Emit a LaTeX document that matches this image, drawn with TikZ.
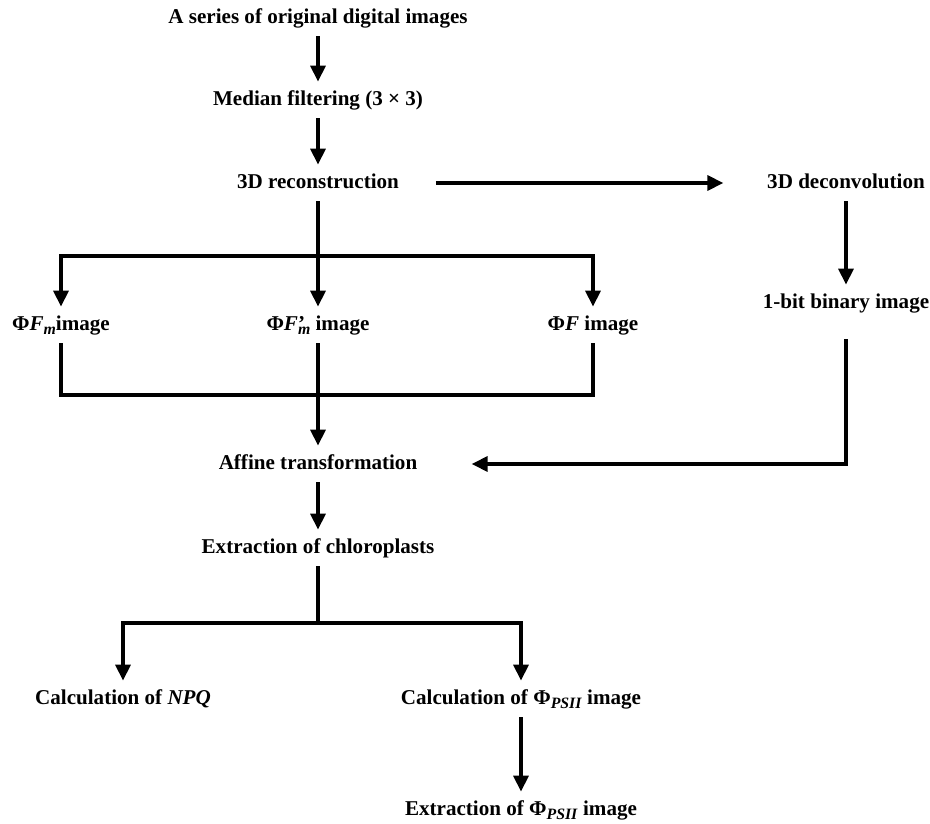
\documentclass[tikz,border=0pt]{standalone}
\usepackage{fontspec}
\setmainfont{Liberation Serif}
\usetikzlibrary{arrows.meta}
\newcommand{\lowsub}[1]{\raisebox{-0.45ex}{\fontsize{9}{10}\selectfont\textit{#1}}}
\begin{document}
\begin{tikzpicture}[x=0.02cm,y=-0.02cm,>={Triangle[length=9pt,width=8.5pt]},line width=1.9pt,
  lbl/.style={font=\fontsize{12}{14}\selectfont\bfseries,text height=8.5pt,text depth=2.5pt,inner sep=0pt,outer sep=5pt}]
\useasboundingbox (0,0) rectangle (930,824);
\node[lbl] (src) at (318,18) {A series of original digital images};
\node[lbl] (med) at (318,100) {Median filtering (3 × 3)};
\node[lbl] (rec) at (318,183) {3D reconstruction};
\node[lbl] (dec) at (846,183) {3D deconvolution};
\node[lbl] (bin) at (846,303) {1-bit binary image};
\node[lbl] (fm) at (61,325) {Φ\textit{F}\lowsub{m}image};
\node[lbl] (fmp) at (318,325) {Φ\textit{F}\rlap{’}\lowsub{m} image};
\node[lbl] (ff) at (593,325) {Φ\textit{F} image};
\node[lbl] (aff) at (318,464) {Affine transformation};
\node[lbl] (chl) at (318,548) {Extraction of chloroplasts};
\node[lbl] (npq) at (123,699) {Calculation of \textit{NPQ}};
\node[lbl] (psii) at (521,699) {Calculation of Φ\lowsub{PSII} image};
\node[lbl] (ext) at (521,810) {Extraction of Φ\lowsub{PSII} image};
\coordinate (j1) at (318,256);
\coordinate (j2) at (318,395);
\coordinate (j3) at (318,623);
\draw[->] (src) -- (med);
\draw[->] (med) -- (rec);
\draw[->,shorten <=16pt,shorten >=20pt] (rec) -- (dec);
\draw[->] (dec) -- (bin);
\draw[->,shorten <=10pt,shorten >=26pt] (bin) |- (aff);
% three branches after reconstruction
\draw (rec) -- (j1);
\draw[->] (j1) -| (fm);
\draw[->] (j1) -- (fmp);
\draw[->] (j1) -| (ff);
\draw (fm) |- (j2) -| (ff);
\draw[->] (fmp) -- (aff);
\draw[->] (aff) -- (chl);
\draw (chl) -- (j3);
\draw[->] (j3) -| (npq);
\draw[->] (j3) -| (psii);
\draw[->] (psii) -- (ext);
\end{tikzpicture}
\end{document}
